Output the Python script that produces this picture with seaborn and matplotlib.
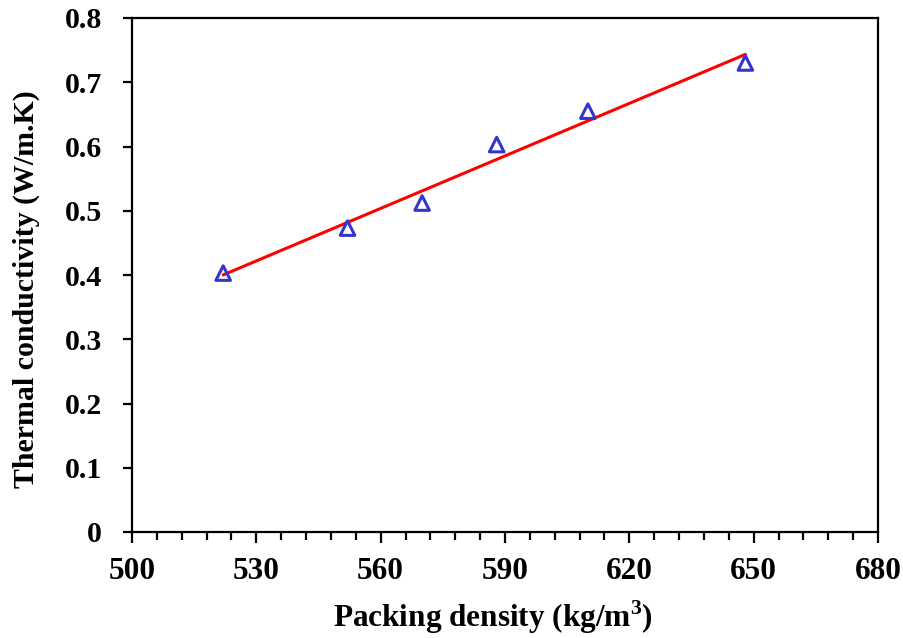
import numpy as np
import pandas as pd
import matplotlib
matplotlib.use("Agg")
import matplotlib.pyplot as plt
from matplotlib.ticker import FixedLocator
import seaborn as sns

# Measured packing density vs thermal conductivity
packing_density = [522, 552, 570, 588, 610, 648]
thermal_conductivity = [0.403, 0.473, 0.512, 0.603, 0.655, 0.730]
x_ticks = [500, 530, 560, 590, 620, 650, 680]
y_ticks = [0, 0.1, 0.2, 0.3, 0.4, 0.5, 0.6, 0.7, 0.8]

df = pd.DataFrame({"density": packing_density, "k": thermal_conductivity})

sns.set_theme(style="white")
plt.rcParams["font.family"] = ["Liberation Serif", "DejaVu Serif"]
plt.rcParams["font.weight"] = "bold"
plt.rcParams["text.color"] = "black"
plt.rcParams["axes.labelcolor"] = "black"
plt.rcParams["xtick.color"] = "black"
plt.rcParams["ytick.color"] = "black"
plt.rcParams["mathtext.fontset"] = "custom"
plt.rcParams["mathtext.rm"] = "Liberation Serif:bold"
plt.rcParams["mathtext.bf"] = "Liberation Serif:bold"

fig = plt.figure(figsize=(9.04, 6.38), dpi=100)
ax = fig.add_axes([132 / 904, 1 - 532 / 638, (878 - 132) / 904, (532 - 18) / 638])

# Linear trend line over the measured range
sns.regplot(data=df, x="density", y="k", scatter=False, ci=None, truncate=True,
            color="#ff0000", line_kws={"linewidth": 2.2, "zorder": 2}, ax=ax)

# Measured points as hollow triangles
sns.scatterplot(data=df, x="density", y="k", marker="^", s=110,
                facecolor="none", edgecolor="#3535cc", linewidth=2.2,
                zorder=3, ax=ax)

ax.set_xlim(500, 680)
ax.set_ylim(0, 0.8)
ax.xaxis.set_major_locator(FixedLocator(x_ticks))
ax.xaxis.set_minor_locator(FixedLocator(np.arange(500, 681, 6)))
ax.yaxis.set_major_locator(FixedLocator(y_ticks))
ax.set_xticklabels([str(t) for t in x_ticks])
ax.set_yticklabels(["0" if t == 0 else f"{t:.1f}" for t in y_ticks])

for side in ["left", "right", "top", "bottom"]:
    ax.spines[side].set_visible(True)
    ax.spines[side].set_color("black")
    ax.spines[side].set_linewidth(1.6)

ax.tick_params(axis="x", which="major", direction="out", length=8, width=1.6,
               labelsize=22.5, pad=10, bottom=True)
ax.tick_params(axis="x", which="minor", direction="out", length=5.5, width=1.6,
               bottom=True)
ax.tick_params(axis="y", which="major", direction="out", length=6.5, width=1.6,
               labelsize=21.5, pad=15, left=True)
for lbl in ax.get_xticklabels() + ax.get_yticklabels():
    lbl.set_fontweight("bold")

ax.set_xlabel(r"Packing density (kg/m$^{\mathbf{3}}$)", fontsize=22.5,
              fontweight="bold")
ax.set_ylabel("Thermal conductivity (W/m.K)", fontsize=21.5,
              fontweight="bold")
ax.xaxis.set_label_coords(0.484, -0.130)
ax.yaxis.set_label_coords(-0.1233, 0.472)
ax.grid(False)

fig.savefig("out.png", dpi=100)
